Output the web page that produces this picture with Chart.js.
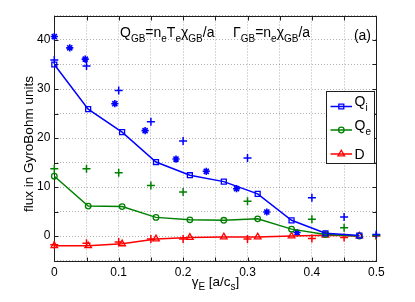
<!DOCTYPE html>
<html><head><meta charset="utf-8">
<script src="https://cdn.jsdelivr.net/npm/chart.js@4.4.1/dist/chart.umd.min.js"></script>
<style>html,body{margin:0;padding:0;background:#fff}#wrap{width:415px;height:302px}</style>
</head><body><div id="wrap"><canvas id="c" width="415" height="302"></canvas></div>
<script>
// ---- data ----
const gammaLine = [0, 0.0526, 0.1053, 0.1579, 0.2105, 0.2632, 0.3158, 0.3684, 0.4211, 0.4737];
const Qi = [35.0, 25.9, 21.2, 15.1, 12.4, 11.1, 8.6, 3.2, 0.55, 0.1];
const Qe = [12.2, 6.1, 6.0, 3.8, 3.3, 3.2, 3.5, 1.4, 0.3, 0.0];
const D  = [-2.0, -2.0, -1.6, -0.6, -0.3, -0.2, -0.2, 0.0, 0.15, 0.0];

const gammaStar = [0, 0.024, 0.048, 0.094, 0.141, 0.189, 0.236, 0.283, 0.330, 0.377];
const QiStar = [40.7, 38.4, 36.1, 27.0, 21.5, 15.7, 13.2, 9.65, 4.9, 0.7];

const gammaPlus = [0, 0.05, 0.1, 0.15, 0.2, 0.3, 0.4, 0.45, 0.5];
const QiPlus = [35.9, 34.7, 29.7, 23.3, 19.4, 15.9, 7.8, 3.9, 0.3];
const QePlus = [13.7, 13.7, 12.9, 10.3, 9.0, 7.1, 3.4, 1.7, 0.1];
const DPlus  = [-1.8, -1.5, -1.2, -0.6, -0.6, -0.6, -0.5, -0.3, 0.0];

const xTickVals = [0, 0.05, 0.1, 0.15, 0.2, 0.25, 0.3, 0.35, 0.4, 0.45, 0.5];
const xTickLabels = ['0', '', '0.1', '', '0.2', '', '0.3', '', '0.4', '', '0.5'];
const yTickVals = [-5, 0, 5, 10, 15, 20, 25, 30, 35, 40, 45];
const yTickLabels = ['', '0', '', '10', '', '20', '', '30', '', '40', ''];

const BLUE = '#0000ff', GREEN = '#008000', RED = '#ff0000';
const FONT = '"Liberation Sans", Arial, Helvetica, sans-serif';

const pts = (xs, ys) => xs.map((x, i) => ({x: x, y: ys[i]}));

function lineDs(label, ys, color, style, r) {
  return {label, data: pts(gammaLine, ys), showLine: true, borderColor: color, borderWidth: 1.5,
    backgroundColor: 'rgba(0,0,0,0)', pointStyle: style, pointRadius: r, pointBorderWidth: 1.3,
    pointBorderColor: color, pointBackgroundColor: 'rgba(0,0,0,0)', clip: false, tension: 0};
}
function markDs(label, xs, ys, color, style, r, bw) {
  return {label, data: pts(xs, ys), showLine: false, borderColor: color, backgroundColor: color,
    pointStyle: style, pointRadius: r, pointBorderWidth: bw, pointBorderColor: color, clip: false};
}

// draw text with subscripts
function rich(ctx, parts, x, y, size, align) {
  const sub = Math.round(size * 0.72);
  let w = 0;
  parts.forEach(p => { ctx.font = (p[1] ? sub : size) + 'px ' + FONT; w += ctx.measureText(p[0]).width; });
  let cx = align === 'center' ? x - w / 2 : (align === 'right' ? x - w : x);
  ctx.textAlign = 'left'; ctx.textBaseline = 'alphabetic';
  parts.forEach(p => {
    ctx.font = (p[1] ? sub : size) + 'px ' + FONT;
    ctx.fillText(p[0], cx, p[1] ? y + size * 0.36 : y);
    cx += ctx.measureText(p[0]).width;
  });
}

function marker(ctx, style, x, y, r, color) {
  ctx.save();
  ctx.strokeStyle = color; ctx.lineWidth = 1.3; ctx.beginPath();
  if (style === 'rect') { const s = r * Math.SQRT1_2; ctx.rect(x - s, y - s, 2 * s, 2 * s); }
  else if (style === 'circle') { ctx.arc(x, y, r, 0, Math.PI * 2); }
  else if (style === 'triangle') {
    for (let k = 0; k < 3; k++) { const a = k * 2 * Math.PI / 3; const px = x + Math.sin(a) * r, py = y - Math.cos(a) * r; k ? ctx.lineTo(px, py) : ctx.moveTo(px, py); }
    ctx.closePath();
  }
  ctx.stroke(); ctx.restore();
}

const framePlugin = {
  id: 'frame',
  beforeDatasetsDraw(chart) {
    const {ctx} = chart; const xs = chart.scales.x, ys = chart.scales.y;
    const l = Math.round(xs.getPixelForValue(0)) + 0.5, r = Math.round(xs.getPixelForValue(0.5)) + 0.5;
    const t = Math.round(ys.getPixelForValue(45)) + 0.5, b = Math.round(ys.getPixelForValue(-5)) + 0.5;
    ctx.save();
    ctx.strokeStyle = '#1e1e1e'; ctx.lineWidth = 1;
    ctx.strokeRect(l, t, r - l, b - t);
    ctx.beginPath();
    xTickVals.forEach(v => { const p = Math.round(xs.getPixelForValue(v)) + 0.5; ctx.moveTo(p, b); ctx.lineTo(p, b - 4); ctx.moveTo(p, t); ctx.lineTo(p, t + 4); });
    yTickVals.forEach(v => { const p = Math.round(ys.getPixelForValue(v)) + 0.5; ctx.moveTo(l, p); ctx.lineTo(l + 4, p); ctx.moveTo(r, p); ctx.lineTo(r - 4, p); });
    ctx.stroke();
    ctx.restore();
  },
  afterDraw(chart) {
    const {ctx} = chart;
    ctx.save();
    ctx.fillStyle = '#000';
    // annotations
    rich(ctx, [['Q'], ['GB', 1], ['=n'], ['e', 1], ['T'], ['e', 1], ['\u03c7'], ['GB', 1], ['/a']], 120, 37, 14, 'left');
    rich(ctx, [['\u0393'], ['GB', 1], ['=n'], ['e', 1], ['\u03c7'], ['GB', 1], ['/a']], 233, 36.5, 14, 'left');
    rich(ctx, [['(a)']], 371, 40, 14, 'right');
    // x title
    rich(ctx, [['\u03b3'], ['E', 1], [' [a/c'], ['s', 1], [']']], 215.5, 285.5, 13.5, 'center');
    // y title
    ctx.save();
    ctx.translate(32.5, 144);
    ctx.rotate(-Math.PI / 2);
    ctx.font = '13.5px ' + FONT; ctx.textAlign = 'center'; ctx.textBaseline = 'alphabetic';
    ctx.fillText('flux in GyroBohm units', 0, 0);
    ctx.restore();
    // legend
    const bx = 326.5, by = 91.5, bw = 48, bh = 72;
    ctx.fillStyle = '#fff'; ctx.fillRect(bx, by, bw, bh);
    ctx.strokeStyle = '#1e1e1e'; ctx.lineWidth = 1; ctx.strokeRect(bx, by, bw, bh);
    const items = [
      {c: BLUE, s: 'rect', r: 3.5, y: 106.5, t: [['Q'], ['i', 1]], ty: 106},
      {c: GREEN, s: 'circle', r: 2.8, y: 130, t: [['Q'], ['e', 1]], ty: 129.5},
      {c: RED, s: 'triangle', r: 3.8, y: 154, t: [['D']], ty: 158.5}
    ];
    items.forEach(it => {
      ctx.strokeStyle = it.c; ctx.lineWidth = 1.5;
      ctx.beginPath(); ctx.moveTo(330.5, it.y); ctx.lineTo(352, it.y); ctx.stroke();
      marker(ctx, it.s, 341.3, it.y, it.r, it.c);
      ctx.fillStyle = '#000';
      rich(ctx, it.t, 354.5, it.ty, 14, 'left');
    });
    ctx.restore();
  }
};

new Chart(document.getElementById('c'), {
  type: 'scatter',
  data: {
    datasets: [
      lineDs('Qi', Qi, BLUE, 'rect', 3.5),
      lineDs('Qe', Qe, GREEN, 'circle', 2.8),
      lineDs('D', D, RED, 'triangle', 3.8),
      markDs('Qi star', gammaStar, QiStar, BLUE, 'star', 3.6, 1.6),
      markDs('Qi plus', gammaPlus, QiPlus, BLUE, 'cross', 4, 1.5),
      markDs('Qe plus', gammaPlus, QePlus, GREEN, 'cross', 4, 1.5),
      markDs('D plus', gammaPlus, DPlus, RED, 'cross', 4, 1.5)
    ]
  },
  options: {
    responsive: false, animation: false, devicePixelRatio: 1, events: [],
    layout: {padding: {left: 0, top: 15.5, right: 38.7, bottom: 0}},
    plugins: {legend: {display: false}, tooltip: {enabled: false}},
    scales: {
      x: {
        type: 'linear', min: 0, max: 0.5,
        afterBuildTicks: s => { s.ticks = xTickVals.map(v => ({value: v})); },
        afterFit: s => { s.height = 41.5; },
        ticks: {autoSkip: false, maxRotation: 0, padding: 5, color: '#000', font: {family: FONT, size: 12},
          callback: (v, i) => xTickLabels[i]},
        grid: {color: 'rgba(0,0,0,0.3)', lineWidth: 1, drawTicks: false},
        border: {display: false, dash: [1, 2]}
      },
      y: {
        type: 'linear', min: -5, max: 45,
        afterBuildTicks: s => { s.ticks = yTickVals.map(v => ({value: v})); },
        afterFit: s => { s.width = 54.3; },
        ticks: {autoSkip: false, padding: 4, color: '#000', font: {family: FONT, size: 12},
          callback: (v, i) => yTickLabels[i]},
        grid: {color: 'rgba(0,0,0,0.3)', lineWidth: 1, drawTicks: false},
        border: {display: false, dash: [1, 2]}
      }
    }
  },
  plugins: [framePlugin]
});
</script>
</body></html>
